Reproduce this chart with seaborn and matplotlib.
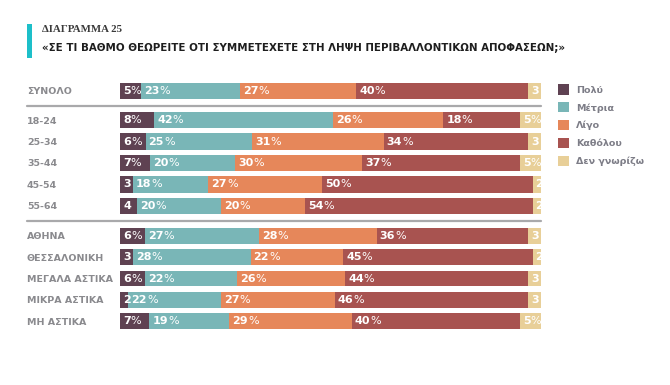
import matplotlib
matplotlib.use("Agg")
import matplotlib.pyplot as plt
from matplotlib.patches import Patch, Rectangle
from matplotlib.lines import Line2D
import pandas as pd
import seaborn as sns

# answer categories
answers = ['Πολύ', 'Μέτρια', 'Λίγο', 'Καθόλου', 'Δεν γνωρίζω']
colors = ['#5f4252', '#79b6b7', '#e6875a', '#a85350', '#e8cf98']

# row groups
total_rows = ['ΣΥΝΟΛΟ']
total_vals = [[5, 23, 27, 40, 3]]

age_rows = ['18-24', '25-34', '35-44', '45-54', '55-64']
age_vals = [
    [8, 42, 26, 18, 5],
    [6, 25, 31, 34, 3],
    [7, 20, 30, 37, 5],
    [3, 18, 27, 50, 2],
    [4, 20, 20, 54, 2],
]

area_rows = ['ΑΘΗΝΑ', 'ΘΕΣΣΑΛΟΝΙΚΗ', 'ΜΕΓΑΛΑ ΑΣΤΙΚΑ', 'ΜΙΚΡΑ ΑΣΤΙΚΑ', 'ΜΗ ΑΣΤΙΚΑ']
area_vals = [
    [6, 27, 28, 36, 3],
    [3, 28, 22, 45, 2],
    [6, 22, 26, 44, 3],
    [2, 22, 27, 46, 3],
    [7, 19, 29, 40, 5],
]

sns.set_style("white")
plt.rcParams['font.family'] = ['DejaVu Sans']

W, H = 670, 385
fig = plt.figure(figsize=(W / 100, H / 100), dpi=100)
fig.patch.set_facecolor('white')

label_color = '#8a8a8e'


def px_axes(top, bottom):
    # bars run from x=120 to x=541 pixels
    return fig.add_axes([120 / W, 1 - bottom / H, 421 / W, (bottom - top) / H])


def draw_group(ax, rows, vals):
    df = pd.DataFrame(vals, columns=answers)
    df.insert(0, 'row', rows)
    share = df[answers].div(df[answers].sum(axis=1), axis=0)
    cum = share.cumsum(axis=1)
    # stacked bars: draw cumulative totals from the last category backwards
    for i in reversed(range(len(answers))):
        sns.barplot(x=cum[answers[i]], y=df['row'], orient='h', color=colors[i],
                    saturation=1, width=0.75, errorbar=None, linewidth=0, ax=ax)
    for r in range(len(rows)):
        left = 0
        for j, a in enumerate(answers):
            v = df.loc[r, a]
            t = ax.annotate(str(v), xy=(left, r), xytext=(3, 0), textcoords='offset pixels',
                            va='center', ha='left', color='white', fontsize=8, fontweight='bold')
            if v >= 5:
                ax.annotate('%', xy=(1, 0.5), xycoords=t, va='center', ha='left',
                            color='white', fontsize=8)
            left += share.loc[r, a]
    ax.set_xlim(0, 1)
    ax.set_xticks([])
    ax.set_xlabel('')
    ax.set_ylabel('')
    ax.set_yticks(range(len(rows)), rows)
    ax.tick_params(axis='y', length=0, pad=67)
    for lbl in ax.get_yticklabels():
        lbl.set_ha('left')
        lbl.set_fontsize(6.8)
        lbl.set_fontweight('bold')
        lbl.set_color(label_color)
    sns.despine(ax=ax, left=True, bottom=True)


ax0 = px_axes(80.3, 101.7)
draw_group(ax0, total_rows, total_vals)
ax1 = px_axes(109.3, 216.7)
draw_group(ax1, age_rows, age_vals)
ax2 = px_axes(225.3, 331.7)
draw_group(ax2, area_rows, area_vals)

# separators
for y in [106, 220.5]:
    fig.add_artist(Line2D([27 / W, 541 / W], [1 - y / H, 1 - y / H], color='#a9a9ab', lw=1.6))

# heading
fig.add_artist(Rectangle((27 / W, 1 - 58 / H), 5 / W, 34 / H, transform=fig.transFigure,
                         color='#1dbfc9', lw=0))
fig.text(41.5 / W, 1 - 29 / H, 'ΔΙΑΓΡΑΜΜΑ 25', family='Liberation Serif', fontweight='bold',
         fontsize=7.8, color='#3a3a3a', va='center', ha='left')
fig.text(41.5 / W, 1 - 48 / H,
         '«ΣΕ ΤΙ ΒΑΘΜΟ ΘΕΩΡΕΙΤΕ ΟΤΙ ΣΥΜΜΕΤΕΧΕΤΕ ΣΤΗ ΛΗΨΗ ΠΕΡΙΒΑΛΛΟΝΤΙΚΩΝ ΑΠΟΦΑΣΕΩΝ;»',
         fontweight='bold', fontsize=7.4, color='#1e1e1e', va='center', ha='left')

# legend
handles = [Patch(facecolor=c, edgecolor='none', label=a) for a, c in zip(answers, colors)]
leg = fig.legend(handles=handles, loc='upper left', bbox_to_anchor=(557.5 / W, 1 - 84.5 / H),
                 frameon=False, borderpad=0, borderaxespad=0, handlelength=1.27,
                 handleheight=1.27, handletextpad=0.7, labelspacing=0.8,
                 prop={'size': 6.8, 'weight': 'bold'})
for txt in leg.get_texts():
    txt.set_color('#7d7d87')

fig.savefig('out.png', dpi=100)
